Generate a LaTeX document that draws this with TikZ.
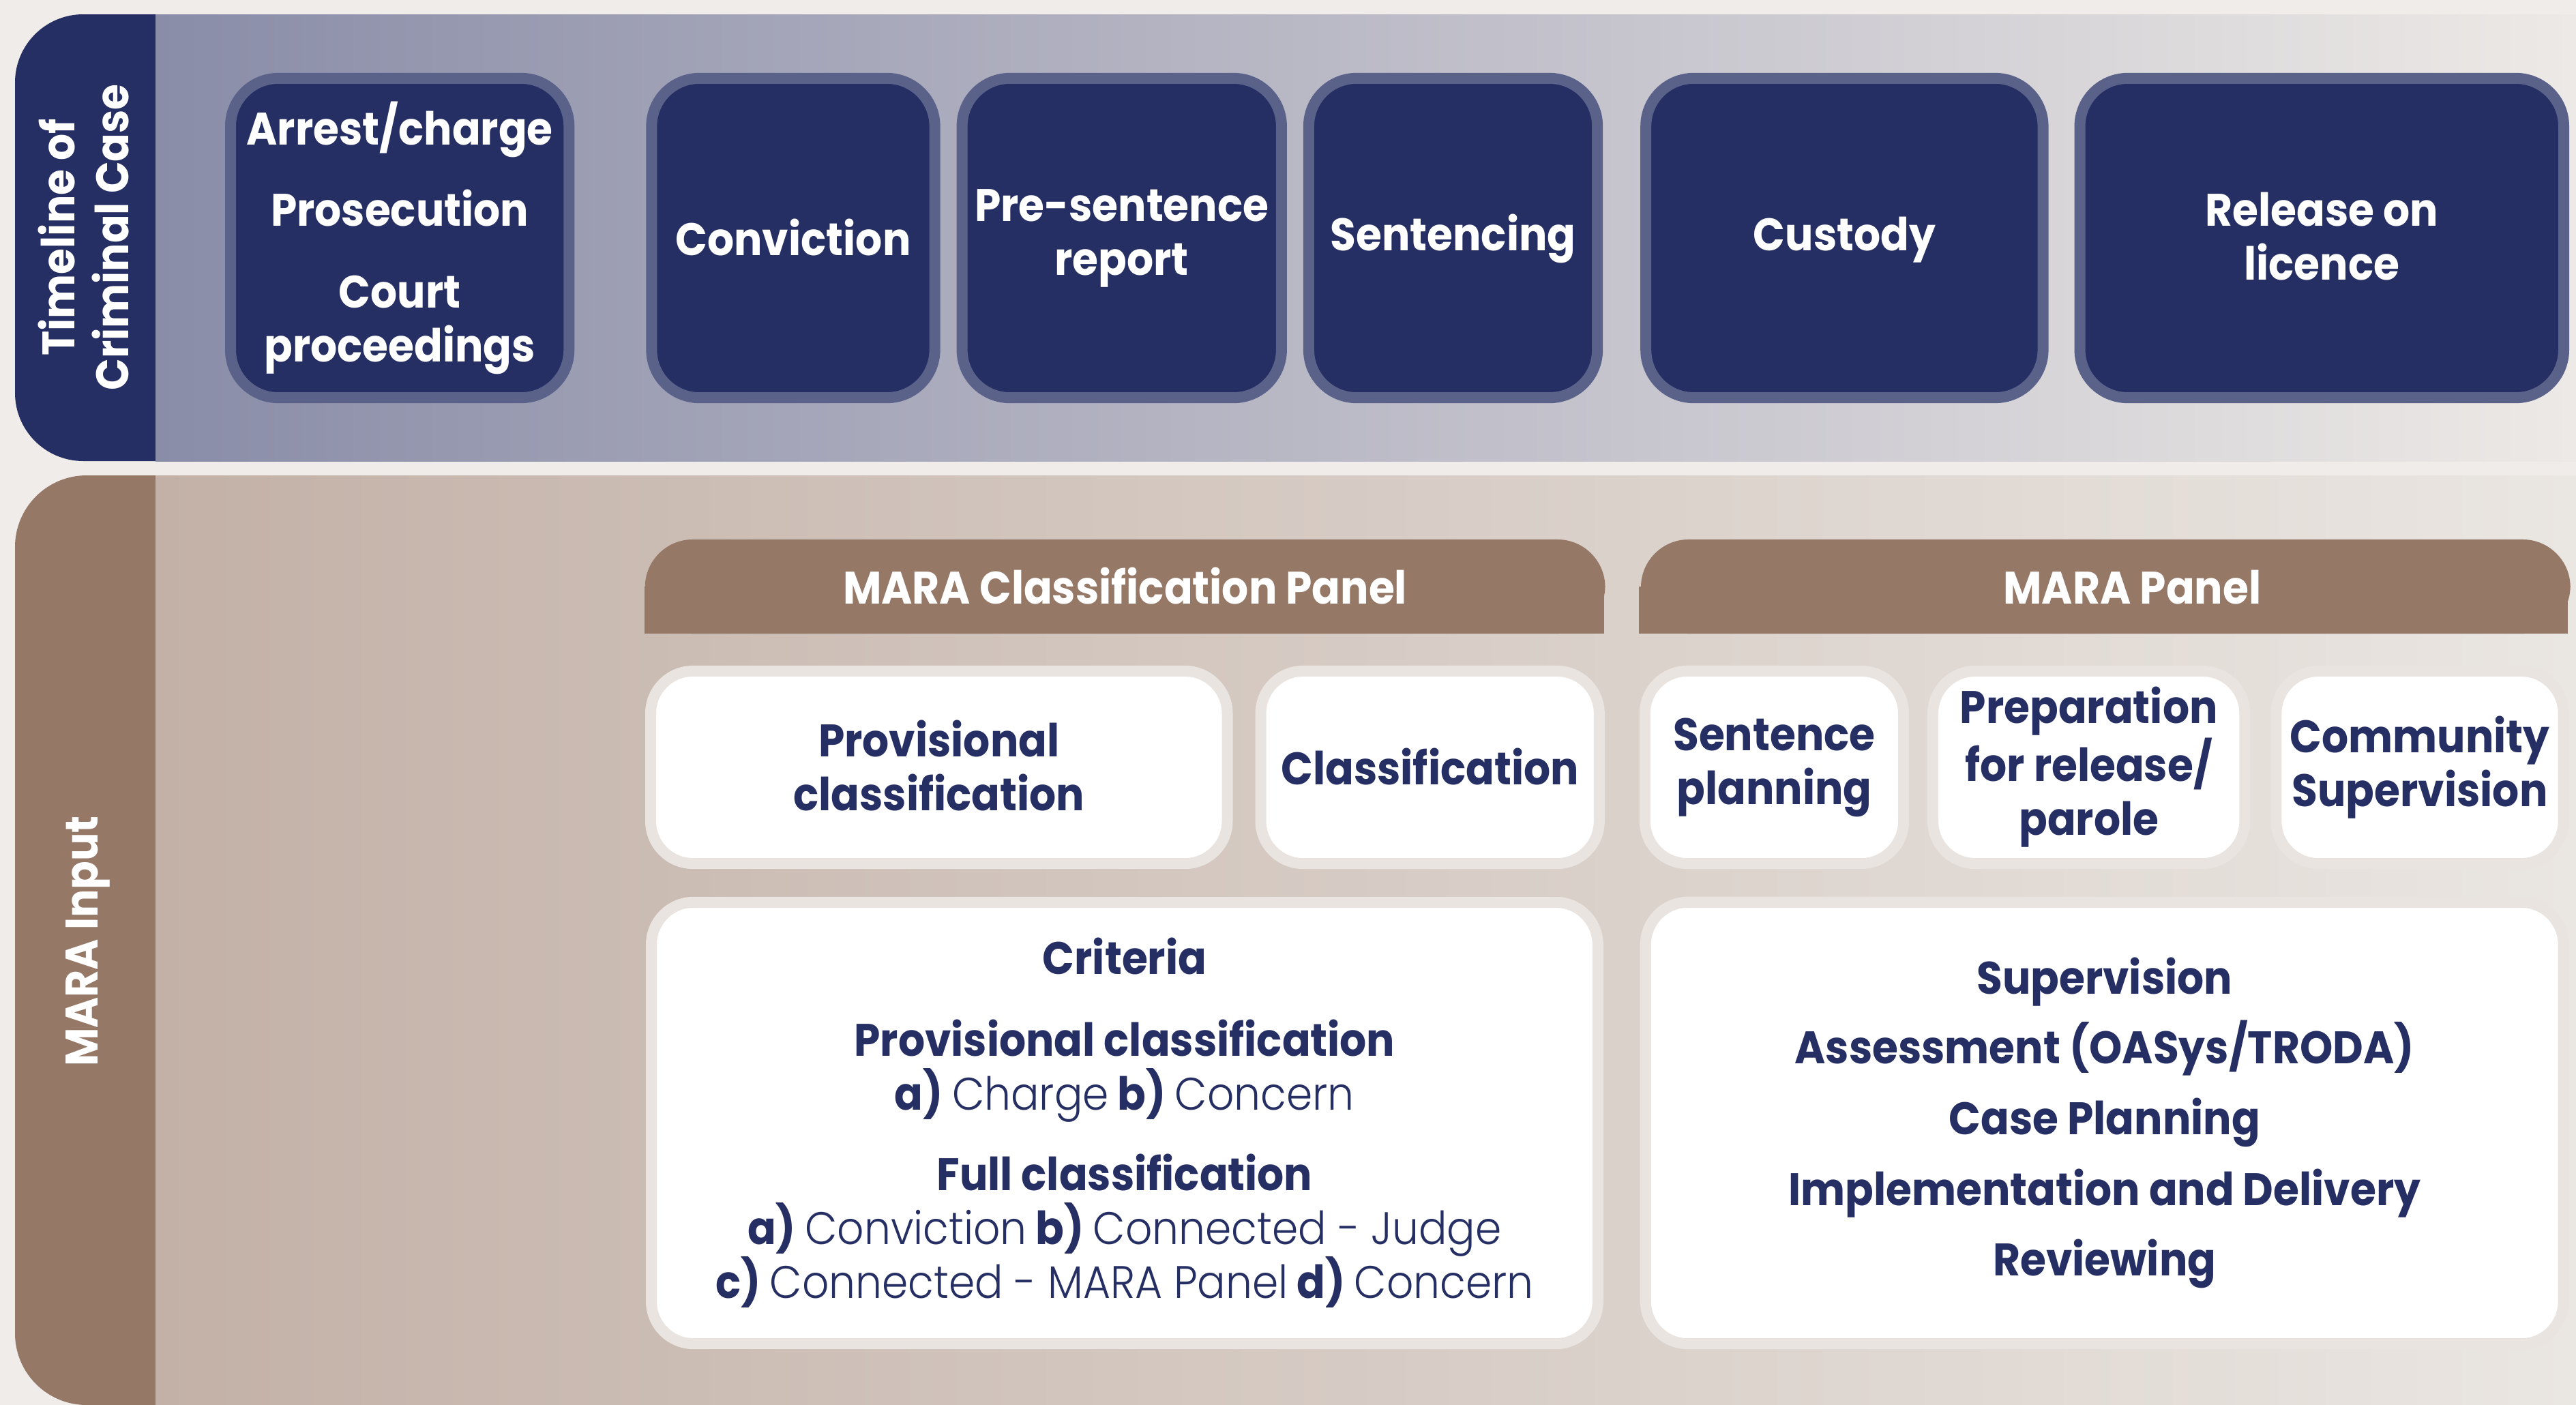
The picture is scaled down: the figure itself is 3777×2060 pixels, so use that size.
\documentclass[tikz,border=0pt]{standalone}
\usepackage{fontspec}
\setmainfont{Poppins}[FakeStretch=0.92]
\newfontfamily\lightfont{Poppins Light}[FakeStretch=0.92]
\usetikzlibrary{positioning}
\definecolor{navy}{HTML}{262F63}
\definecolor{stageedge}{HTML}{5B628A}
\definecolor{mara}{HTML}{967867}
\definecolor{cardedge}{HTML}{E9E4E0}
\definecolor{paper}{HTML}{EFECE9}
\definecolor{topl}{HTML}{8A8DA8}
\definecolor{topr}{HTML}{EDE9E6}
\definecolor{botl}{HTML}{C3B1A7}
\definecolor{botr}{HTML}{EAE6E2}
\newcommand{\tstrut}{\rule[-1.5pt]{0pt}{17.25pt}}
\tikzset{
  txt/.style={font=\fontsize{19}{22.5}\selectfont\bfseries, align=center, inner sep=0pt, execute at begin node=\tstrut, execute at end node=\tstrut},
  stage/.style={txt, text=white, fill=navy, draw=stageedge, line width=0.16cm, rounded corners=0.7cm, minimum height=4.68cm},
  card/.style={txt, text=navy, fill=white, draw=cardedge, line width=0.16cm, rounded corners=0.62cm},
  head/.style={txt, text=white, fill=mara, rounded corners=0.7cm, minimum height=1.38cm},
}
\newcommand{\lt}[1]{{\lightfont\mdseries #1}}
\begin{document}
\begin{tikzpicture}[x=0.01cm, y=-0.01cm]
    \useasboundingbox[fill=paper] (0,0) rectangle (3777,2060);
    \fill[navy, rounded corners=1cm] (22,21) rectangle (500,676);
    \shade[left color=topl, right color=topr] (228,21) rectangle (3777,676);
    \fill[mara, rounded corners=1.05cm] (22,697) rectangle (500,2060);
    \shade[left color=botl, right color=botr] (228,697) rectangle (3777,2060);
    \fill[mara] (945,860) rectangle (2352,929);
    \fill[mara] (2403,860) rectangle (3765,929);

    \node[txt, text=white, rotate=90] (L1) at (125,348) {Timeline of\\Criminal Case};
    \node[txt, text=white, rotate=90] (L2) at (125,1380) {MARA Input};

    \node[stage, minimum width=4.96cm, anchor=west] (T1) at (330,349) {Arrest/charge\\[11.5pt]Prosecution\\[11.5pt]Court\\proceedings};
    \node[stage, minimum width=4.15cm, right=1.05cm of T1] (T2) {Conviction};
    \node[stage, minimum width=4.68cm, right=0.24cm of T2] (T3) {Pre-sentence\\report};
    \node[stage, minimum width=4.23cm, right=0.24cm of T3] (T4) {Sentencing};
    \node[stage, minimum width=5.82cm, right=0.55cm of T4] (T5) {Custody};
    \node[stage, minimum width=7.09cm, right=0.38cm of T5] (T6) {Release on\\licence};

    \node[head, minimum width=14.07cm, anchor=west] (K) at (945,860) {MARA Classification Panel};
    \node[head, minimum width=13.62cm, right=0.51cm of K] (M) {\hspace*{0.78cm}MARA Panel};

    \node[card, minimum width=8.45cm, minimum height=2.82cm, anchor=west] (R1) at (946,1125) {Provisional\\classification};
    \node[card, minimum width=4.96cm, minimum height=2.82cm, right=0.33cm of R1] (R2) {Classification};
    \node[card, minimum width=3.79cm, minimum height=2.82cm, right=0.51cm of R2] (R3) {Sentence\\planning};
    \node[card, minimum width=4.57cm, minimum height=2.82cm, right=0.27cm of R3] (R4) {Preparation\\for release/\\parole};
    \node[card, minimum width=4.21cm, minimum height=2.82cm, right=0.30cm of R4] (R5) {Community\\Supervision};

    \node[card, minimum width=13.87cm, minimum height=6.47cm, anchor=west] (X) at (947,1646.5) {Criteria\\[11.5pt]Provisional classification\\a) \lt{Charge} b) \lt{Concern}\\[11pt]Full classification\\a) \lt{Conviction} b) \lt{Connected - Judge}\\c) \lt{Connected - MARA Panel} d) \lt{Concern}};
    \node[card, minimum width=13.45cm, minimum height=6.47cm, right=0.54cm of X] (S) {Supervision\\[5pt]Assessment (OASys/TRODA)\\[7pt]Case Planning\\[7pt]Implementation and Delivery\\[7pt]Reviewing};
\end{tikzpicture}
\end{document}
